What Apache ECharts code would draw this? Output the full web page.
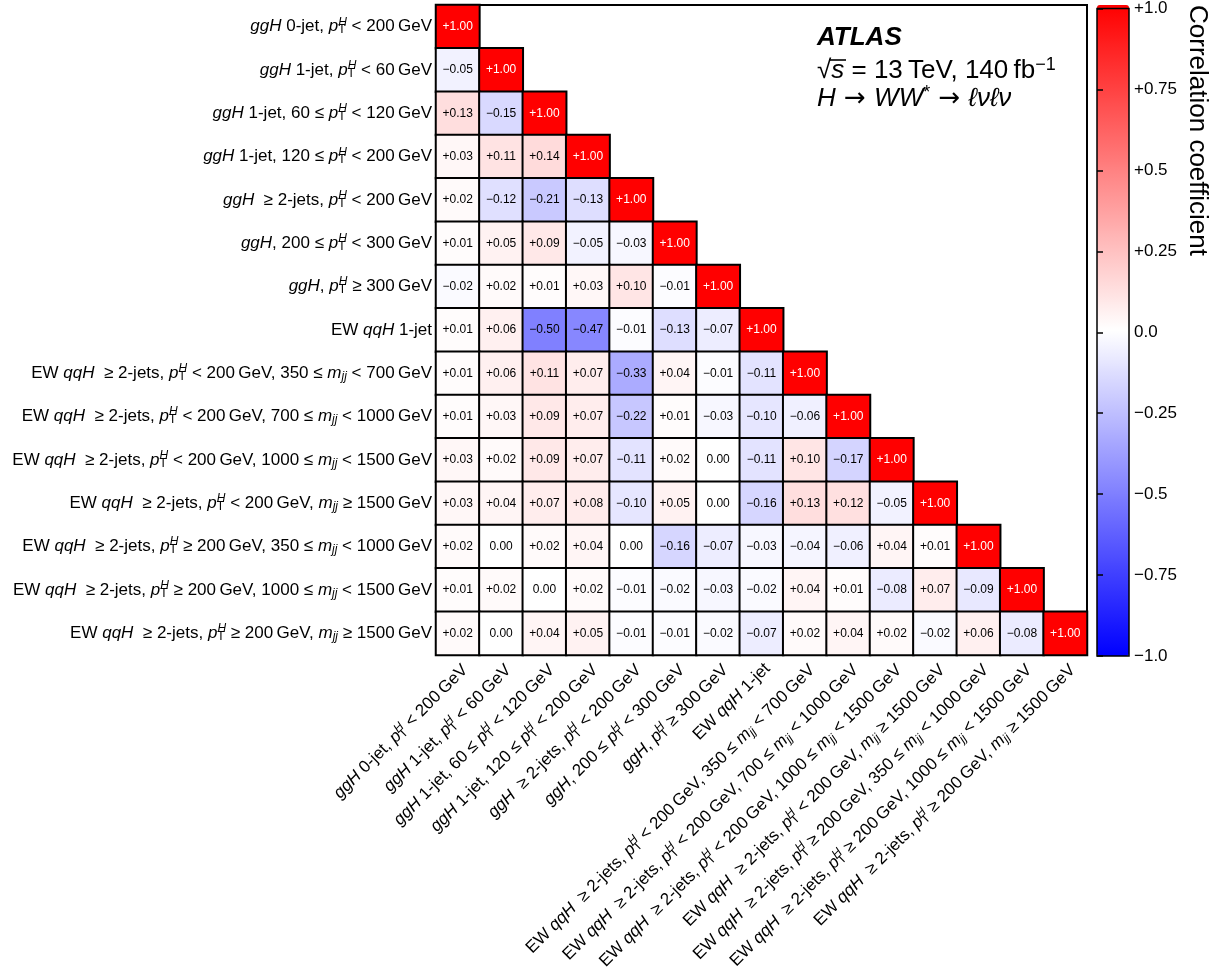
<!DOCTYPE html>
<html><head><meta charset="utf-8">
<script src="https://cdn.jsdelivr.net/npm/echarts@6/dist/echarts.min.js"></script>
<style>html,body{margin:0;padding:0;background:#fff}#c{width:1232px;height:973px}</style>
</head><body><div id="c"></div>
<script>
const TS = '\u2009';
const PT = '{i|p}{sub|T}{sup|H}';
const MJJ = '{i|m}{subi|jj}';
const categories = [
  '{i|ggH} 0-jet, ' + PT + ' < 200' + TS + 'GeV',
  '{i|ggH} 1-jet, ' + PT + ' < 60' + TS + 'GeV',
  '{i|ggH} 1-jet, 60 ≤ ' + PT + ' < 120' + TS + 'GeV',
  '{i|ggH} 1-jet, 120 ≤ ' + PT + ' < 200' + TS + 'GeV',
  '{i|ggH}  ≥ 2-jets, ' + PT + ' < 200' + TS + 'GeV',
  '{i|ggH}, 200 ≤ ' + PT + ' < 300' + TS + 'GeV',
  '{i|ggH}, ' + PT + ' ≥ 300' + TS + 'GeV',
  'EW {i|qqH} 1-jet',
  'EW {i|qqH}  ≥ 2-jets, ' + PT + ' < 200' + TS + 'GeV, 350 ≤ ' + MJJ + ' < 700' + TS + 'GeV',
  'EW {i|qqH}  ≥ 2-jets, ' + PT + ' < 200' + TS + 'GeV, 700 ≤ ' + MJJ + ' < 1000' + TS + 'GeV',
  'EW {i|qqH}  ≥ 2-jets, ' + PT + ' < 200' + TS + 'GeV, 1000 ≤ ' + MJJ + ' < 1500' + TS + 'GeV',
  'EW {i|qqH}  ≥ 2-jets, ' + PT + ' < 200' + TS + 'GeV, ' + MJJ + ' ≥ 1500' + TS + 'GeV',
  'EW {i|qqH}  ≥ 2-jets, ' + PT + ' ≥ 200' + TS + 'GeV, 350 ≤ ' + MJJ + ' < 1000' + TS + 'GeV',
  'EW {i|qqH}  ≥ 2-jets, ' + PT + ' ≥ 200' + TS + 'GeV, 1000 ≤ ' + MJJ + ' < 1500' + TS + 'GeV',
  'EW {i|qqH}  ≥ 2-jets, ' + PT + ' ≥ 200' + TS + 'GeV, ' + MJJ + ' ≥ 1500' + TS + 'GeV'
];
// lower-triangular correlation matrix, row r holds columns 0..r
const row0  = [1.00];
const row1  = [-0.05, 1.00];
const row2  = [0.13, -0.15, 1.00];
const row3  = [0.03, 0.11, 0.14, 1.00];
const row4  = [0.02, -0.12, -0.21, -0.13, 1.00];
const row5  = [0.01, 0.05, 0.09, -0.05, -0.03, 1.00];
const row6  = [-0.02, 0.02, 0.01, 0.03, 0.10, -0.01, 1.00];
const row7  = [0.01, 0.06, -0.50, -0.47, -0.01, -0.13, -0.07, 1.00];
const row8  = [0.01, 0.06, 0.11, 0.07, -0.33, 0.04, -0.01, -0.11, 1.00];
const row9  = [0.01, 0.03, 0.09, 0.07, -0.22, 0.01, -0.03, -0.10, -0.06, 1.00];
const row10 = [0.03, 0.02, 0.09, 0.07, -0.11, 0.02, 0.00, -0.11, 0.10, -0.17, 1.00];
const row11 = [0.03, 0.04, 0.07, 0.08, -0.10, 0.05, 0.00, -0.16, 0.13, 0.12, -0.05, 1.00];
const row12 = [0.02, 0.00, 0.02, 0.04, 0.00, -0.16, -0.07, -0.03, -0.04, -0.06, 0.04, 0.01, 1.00];
const row13 = [0.01, 0.02, 0.00, 0.02, -0.01, -0.02, -0.03, -0.02, 0.04, 0.01, -0.08, 0.07, -0.09, 1.00];
const row14 = [0.02, 0.00, 0.04, 0.05, -0.01, -0.01, -0.02, -0.07, 0.02, 0.04, 0.02, -0.02, 0.06, -0.08, 1.00];
const rows = [row0,row1,row2,row3,row4,row5,row6,row7,row8,row9,row10,row11,row12,row13,row14];
const colorbarTicks = [-1, -0.75, -0.5, -0.25, 0, 0.25, 0.5, 0.75, 1];
const colorbarTickLabels = ['−1.0', '−0.75', '−0.5', '−0.25', '0.0', '+0.25', '+0.5', '+0.75', '+1.0'];

const FONT = '"Liberation Sans", Arial, Helvetica, sans-serif';
const data = [];
rows.forEach((r, y) => r.forEach((v, x) => {
  data.push({ value: [x, y, v], label: { color: v >= 0.99 ? '#fff' : '#000' } });
}));
function fmtCell(v) {
  if (v === 0) return '0.00';
  return (v > 0 ? '+' : '−') + Math.abs(v).toFixed(2);
}
const rich = {
  i: { fontStyle: 'italic', fontSize: 17, fontFamily: FONT, color: '#000' },
  sub: { fontSize: 12, fontFamily: FONT, color: '#000', padding: [7, 0, 0, 0] },
  subi: { fontSize: 12, fontStyle: 'italic', fontFamily: FONT, color: '#000', padding: [7, 0, 0, 0] },
  sup: { fontSize: 12, fontStyle: 'italic', fontFamily: FONT, color: '#000', padding: [0, 0, 9, -7.3] }
};
const hdrRich = {
  i: { fontStyle: 'italic', fontSize: 26, fontFamily: FONT },
  ar: { fontSize: 26, fontFamily: '"DejaVu Sans", sans-serif' },
  sup: { fontSize: 18, fontFamily: FONT, padding: [0, 0, 12, 0] }
};
const chart = echarts.init(document.getElementById('c'), null, { renderer: 'canvas' });
chart.setOption({
  animation: false,
  backgroundColor: '#fff',
  grid: [
    { left: 436, top: 5, width: 651, height: 651, show: true, borderColor: '#000', borderWidth: 2, backgroundColor: 'transparent' },
    { left: 1097, top: 5, width: 32, height: 651, show: true, borderColor: '#000', borderWidth: 1.5, backgroundColor: 'transparent', z: 10 }
  ],
  xAxis: [
    { type: 'category', gridIndex: 0, data: categories, axisLine: { show: false }, axisTick: { show: false }, splitLine: { show: false },
      axisLabel: { interval: 0, rotate: 45, fontSize: 17, fontFamily: FONT, color: '#000', margin: 5, verticalAlign: 'top', rich: rich } },
    { type: 'value', gridIndex: 1, min: 0, max: 1, show: false }
  ],
  yAxis: [
    { type: 'category', gridIndex: 0, data: categories, inverse: true, axisLine: { show: false }, axisTick: { show: false }, splitLine: { show: false },
      axisLabel: { interval: 0, fontSize: 17, fontFamily: FONT, color: '#000', margin: 4, rich: rich } },
    { type: 'value', gridIndex: 1, min: -1, max: 1, interval: 0.25, position: 'right', z: 10,
      axisLine: { show: false }, splitLine: { show: false },
      axisTick: { show: true, length: 6, lineStyle: { color: '#000', width: 1.5 } },
      axisLabel: { fontSize: 17, fontFamily: FONT, color: '#000', margin: 5,
        formatter: v => { const k = colorbarTicks.findIndex(t => Math.abs(t - v) < 1e-6); return k >= 0 ? colorbarTickLabels[k] : ''; } } }
  ],
  visualMap: {
    type: 'continuous', min: -1, max: 1, seriesIndex: 0, calculable: false, show: true,
    left: 1097, top: 5, itemWidth: 32, itemHeight: 651, padding: 0, hoverLink: false,
    inRange: { color: ['#0000ff', '#ffffff', '#ff0000'] }
  },
  series: [{
    type: 'heatmap', xAxisIndex: 0, yAxisIndex: 0, data: data,
    itemStyle: { borderColor: '#000', borderWidth: 2 },
    label: { show: true, fontSize: 12, fontFamily: FONT, formatter: p => fmtCell(p.value[2]) },
    emphasis: { disabled: true }
  }],
  graphic: [
    { type: 'text', left: 817, top: 25, style: { text: 'ATLAS', font: 'italic bold 26px ' + FONT, fill: '#000' } },
    { type: 'text', left: 817, top: 56, style: { text: '√{i|s} = 13' + TS + 'TeV, 140' + TS + 'fb{sup|−1}', font: '26px ' + FONT, fill: '#000', rich: hdrRich } },
    { type: 'line', shape: { x1: 829, y1: 60, x2: 846, y2: 60 }, style: { stroke: '#000', lineWidth: 1.6 } },
    { type: 'text', left: 817, top: 84, style: { text: '{i|H}{ar| → }{i|WW}{sup|*}{ar| → }{i|ℓνℓν}', font: '26px ' + FONT, fill: '#000', rich: hdrRich } },
    { type: 'text', x: 1197, y: 5, rotation: -Math.PI / 2, style: { text: 'Correlation coefficient', font: '26px ' + FONT, fill: '#000', textAlign: 'left', textVerticalAlign: 'middle' } }
  ]
});
</script></body></html>
